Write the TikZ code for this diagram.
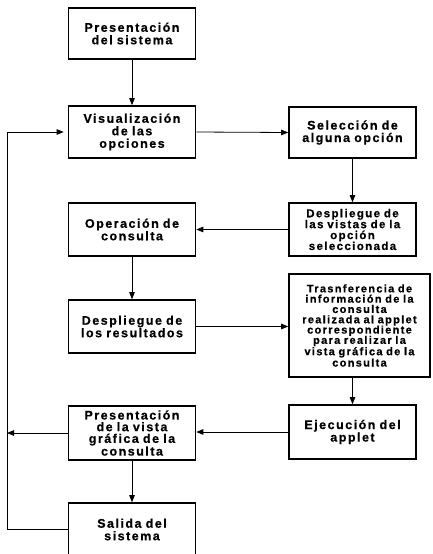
\documentclass[tikz,border=0pt]{standalone}
\usepackage{fontspec}
\newfontfamily\boxfont{Liberation Sans Bold}[LetterSpace=12,WordSpace=1.8,FakeBold=0.6]
\usetikzlibrary{arrows.meta}
\begin{document}
\begin{tikzpicture}[x=1pt,y=-1pt,
  box/.style={draw, line width=1.6pt, inner sep=0pt, align=center,
    minimum width=127pt, text width=124pt,
    font=\boxfont\fontsize{12.5}{12.5}\selectfont},
  conn/.style={line width=0.8pt, -{Triangle[length=7pt,width=5.5pt]}}]
\useasboundingbox (0,0) rectangle (433,554);
\clip (0,0) rectangle (433,554);
\node[box, minimum height=51pt] (b1) at (132,33.5) {Presentación\\del sistema};
\node[box, minimum height=52pt] (b2) at (132,132) {Visualización\\de las\\opciones};
\node[box, minimum height=51pt] (b3) at (352.5,132.5) {Selección de\\alguna opción};
\node[box, minimum height=53pt, font=\boxfont\fontsize{11.5}{10.9}\selectfont] (b4) at (352.5,229.5) {Despliegue de\\las vistas de la\\opción\\seleccionada};
\node[box, minimum height=53pt] (b5) at (132,229.5) {Operación de\\consulta};
\node[box, minimum height=53pt] (b6) at (132,326.5) {Despliegue de\\los resultados};
\node[box, minimum height=103pt, minimum width=141pt, text width=139pt, font=\boxfont\fontsize{11}{10.3}\selectfont] (b7) at (359.5,325.5) {Trasnferencia de\\información de la\\consulta\\realizada al applet\\correspondiente\\para realizar la\\vista gráfica de la\\consulta};
\node[box, minimum height=54pt] (b8) at (352.5,432) {Ejecución del\\applet};
\node[box, minimum height=54pt, font=\boxfont\fontsize{12.5}{11.7}\selectfont] (b9) at (132,433) {Presentación\\de la vista\\gráfica de la\\consulta};
\node[box, minimum height=53pt] (b10) at (132,529.5) {Salida del\\sistema};
\coordinate (fbot) at (7,529.5);
\coordinate (ftop) at (7,132);
\draw[conn] (b1.south) -- (b1.south |- b2.north);
\draw[conn] (b2.east) -- (b3.west);
\draw[conn] (b3.south) -- (b4.north);
\draw[conn] (b4.west) -- (b5.east);
\draw[conn] (b5.south) -- (b6.north);
\draw[conn] (b6.east) -- (b6.east -| b7.west);
\draw[conn] (b7.south -| b8.north) -- (b8.north);
\draw[conn] (b8.west) -- (b8.west -| b9.east);
\draw[conn] (b9.south) -- (b10.north);
\draw[conn] (b9.west) -- (b9.west -| fbot);
\draw[conn, shorten >=4pt] (b10.west) -- (fbot) -- (ftop) -- (b2.west);
\end{tikzpicture}
\end{document}
